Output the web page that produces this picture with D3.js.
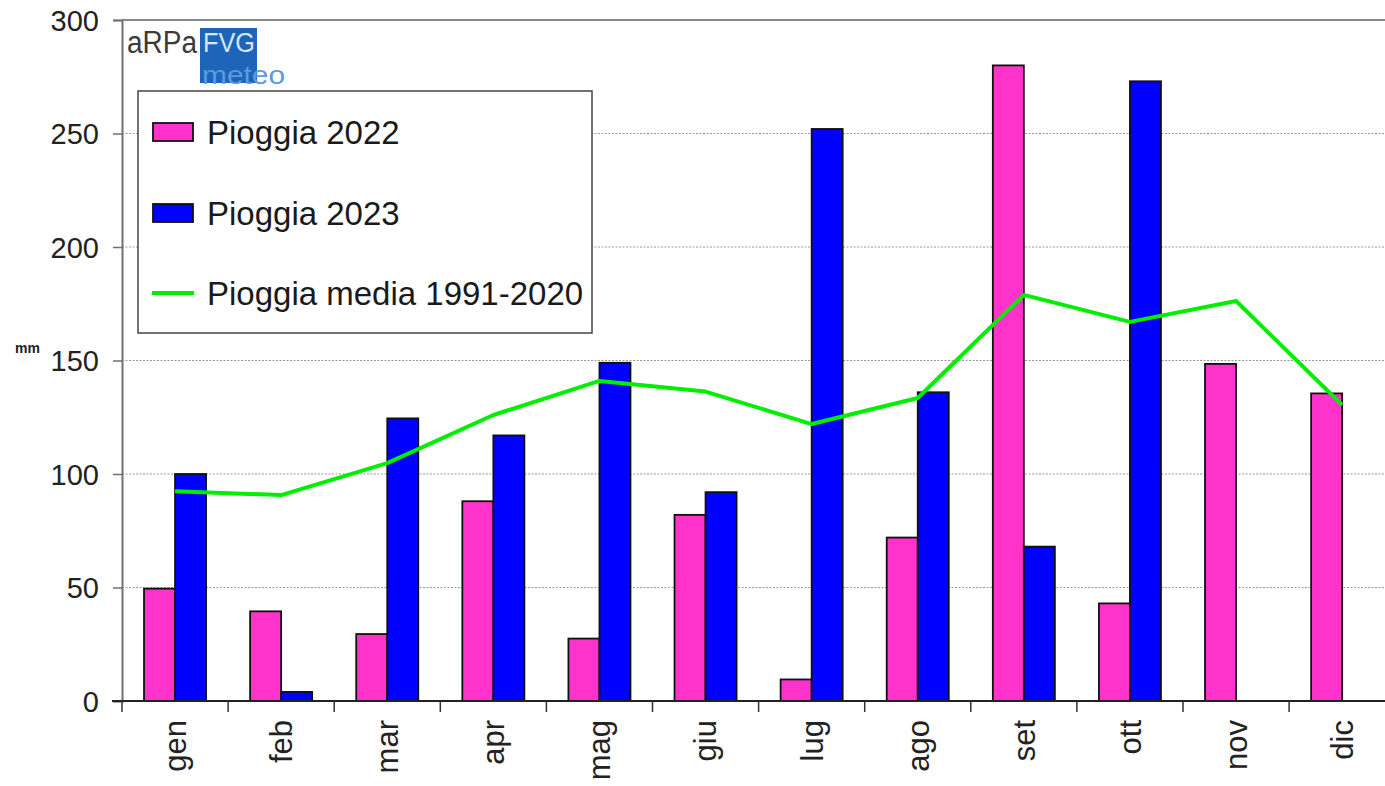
<!DOCTYPE html>
<html>
<head>
<meta charset="utf-8">
<script src="https://cdn.jsdelivr.net/npm/d3@7"></script>
<style>
  html, body { margin: 0; padding: 0; background: #ffffff; }
  svg { display: block; font-family: "Liberation Sans", Arial, sans-serif; }
</style>
</head>
<body>
<svg id="chart" width="1385" height="786"></svg>
<script>
const months = ["gen", "feb", "mar", "apr", "mag", "giu", "lug", "ago", "set", "ott", "nov", "dic"];
const rain2022 = [49.5, 39.5, 29.5, 88, 27.5, 82, 9.5, 72, 280, 43, 148.5, 135.5];
const rain2023 = [100, 4, 124.5, 117, 149, 92, 252, 136, 68, 273, null, null];
const rainMean = [92.4, 90.7, 104.8, 126, 141, 136.3, 122, 133.5, 178.9, 167, 176.2, 130.4];
const yTicks = [0, 50, 100, 150, 200, 250, 300];
const seriesNames = ["Pioggia 2022", "Pioggia 2023", "Pioggia media 1991-2020"];
const seriesKeys = ["2022", "2023"];
const colors = { "2022": "#ff33cc", "2023": "#0000ff", mean: "#00ee00" };

const svg = d3.select("#chart");
const pLeft = 122, pRight = 1395.2, pTop = 20, pBottom = 701;

const x = d3.scaleBand().domain(months).range([pLeft, pRight]).paddingInner(0).paddingOuter(0);
const x1 = d3.scaleBand().domain(seriesKeys).range([0, x.bandwidth()]).paddingInner(0).paddingOuter(0.71);
const y = d3.scaleLinear().domain([0, 300]).range([pBottom, pTop]);

// gridlines
svg.append("g").selectAll("line").data(yTicks.filter(d => d > 0 && d < 300)).join("line")
  .attr("x1", pLeft).attr("x2", 1385).attr("y1", d => y(d)).attr("y2", d => y(d))
  .attr("stroke", "#9a9a9a").attr("stroke-width", 1.2).attr("stroke-dasharray", "2,1.5");
// top border
svg.append("line").attr("x1", pLeft).attr("x2", 1385).attr("y1", y(300)).attr("y2", y(300))
  .attr("stroke", "#8a8a8a").attr("stroke-width", 2);

// y axis
const yAxis = d3.axisLeft(y).tickValues(yTicks).tickSize(9).tickPadding(14);
const gy = svg.append("g").attr("transform", `translate(${pLeft},0)`).call(yAxis);
gy.select(".domain").attr("stroke", "#707070").attr("stroke-width", 2);
gy.selectAll(".tick line").attr("stroke", "#707070").attr("stroke-width", 1.5);
gy.selectAll(".tick text").attr("font-size", 29).attr("fill", "#222")
  .attr("font-family", "Liberation Sans, Arial, sans-serif").attr("dy", "0.36em");

svg.append("text").attr("x", 15).attr("y", 353).attr("font-size", 14).attr("font-weight", "bold")
  .attr("fill", "#222").text("mm");

// logo
const logo = svg.append("g");
logo.append("rect").attr("x", 200).attr("y", 28).attr("width", 57).attr("height", 55).attr("fill", "#1e64b8");
logo.append("text").attr("x", 127).attr("y", 53).attr("font-size", 31).attr("fill", "#3a3a3a")
  .attr("textLength", 70).attr("lengthAdjust", "spacingAndGlyphs").text("aRPa");
logo.append("text").attr("x", 203).attr("y", 52).attr("font-size", 27).attr("fill", "#d6e6f8")
  .attr("textLength", 52).attr("lengthAdjust", "spacingAndGlyphs").text("FVG");
logo.append("text").attr("x", 202).attr("y", 84).attr("font-size", 26).attr("fill", "#5a9ae0")
  .attr("textLength", 83).attr("lengthAdjust", "spacingAndGlyphs").text("meteo");

// bars
const bars = svg.append("g");
months.forEach((m, i) => {
  const vals = [{ k: "2022", v: rain2022[i] }, { k: "2023", v: rain2023[i] }].filter(d => d.v != null);
  bars.selectAll(null).data(vals).join("rect")
    .attr("x", d => x(m) + x1(d.k))
    .attr("y", d => y(d.v))
    .attr("width", x1.bandwidth())
    .attr("height", d => y(0) - y(d.v))
    .attr("fill", d => colors[d.k])
    .attr("stroke", "#111").attr("stroke-width", 1.8);
});

// x axis
const xAxis = d3.axisBottom(x).tickSize(0).tickFormat("");
const gx = svg.append("g").attr("transform", `translate(0,${pBottom})`).call(xAxis);
gx.select(".domain").attr("stroke", "#222").attr("stroke-width", 2).attr("d", `M${pLeft - 10},0H1385`);
svg.append("g").selectAll("line").data(months.concat(["end"])).join("line")
  .attr("x1", (d, i) => pLeft + i * x.step()).attr("x2", (d, i) => pLeft + i * x.step())
  .attr("y1", pBottom).attr("y2", pBottom + 11).attr("stroke", "#333").attr("stroke-width", 1.5);
svg.append("g").selectAll("text").data(months).join("text")
  .attr("transform", d => `translate(${x(d) + x.bandwidth() / 2 + 1},720) rotate(-90)`)
  .attr("text-anchor", "end").attr("dy", "0.32em").attr("font-size", 31).attr("fill", "#222")
  .text(d => d);

// mean line
const line = d3.line().x((d, i) => x(months[i]) + x.bandwidth() / 2).y(d => y(d));
svg.append("path").datum(rainMean).attr("d", line).attr("fill", "none")
  .attr("stroke", colors.mean).attr("stroke-width", 4).attr("stroke-linejoin", "round");

// legend
const lg = svg.append("g");
lg.append("rect").attr("x", 138).attr("y", 91).attr("width", 454).attr("height", 242)
  .attr("fill", "#fff").attr("stroke", "#444").attr("stroke-width", 1.5);
const rowsY = [132, 213, 293];
lg.append("rect").attr("x", 153).attr("y", rowsY[0] - 9).attr("width", 40).attr("height", 18)
  .attr("fill", colors["2022"]).attr("stroke", "#111").attr("stroke-width", 1.8);
lg.append("rect").attr("x", 153).attr("y", rowsY[1] - 9).attr("width", 40).attr("height", 18)
  .attr("fill", colors["2023"]).attr("stroke", "#111").attr("stroke-width", 1.8);
lg.append("line").attr("x1", 152).attr("x2", 194).attr("y1", rowsY[2]).attr("y2", rowsY[2])
  .attr("stroke", colors.mean).attr("stroke-width", 4);
lg.selectAll("text.lt").data(seriesNames).join("text").attr("class", "lt")
  .attr("x", 207).attr("y", (d, i) => rowsY[i]).attr("dy", "0.36em")
  .attr("font-size", 33).attr("fill", "#1a1a1a").text(d => d);
</script>
</body>
</html>
